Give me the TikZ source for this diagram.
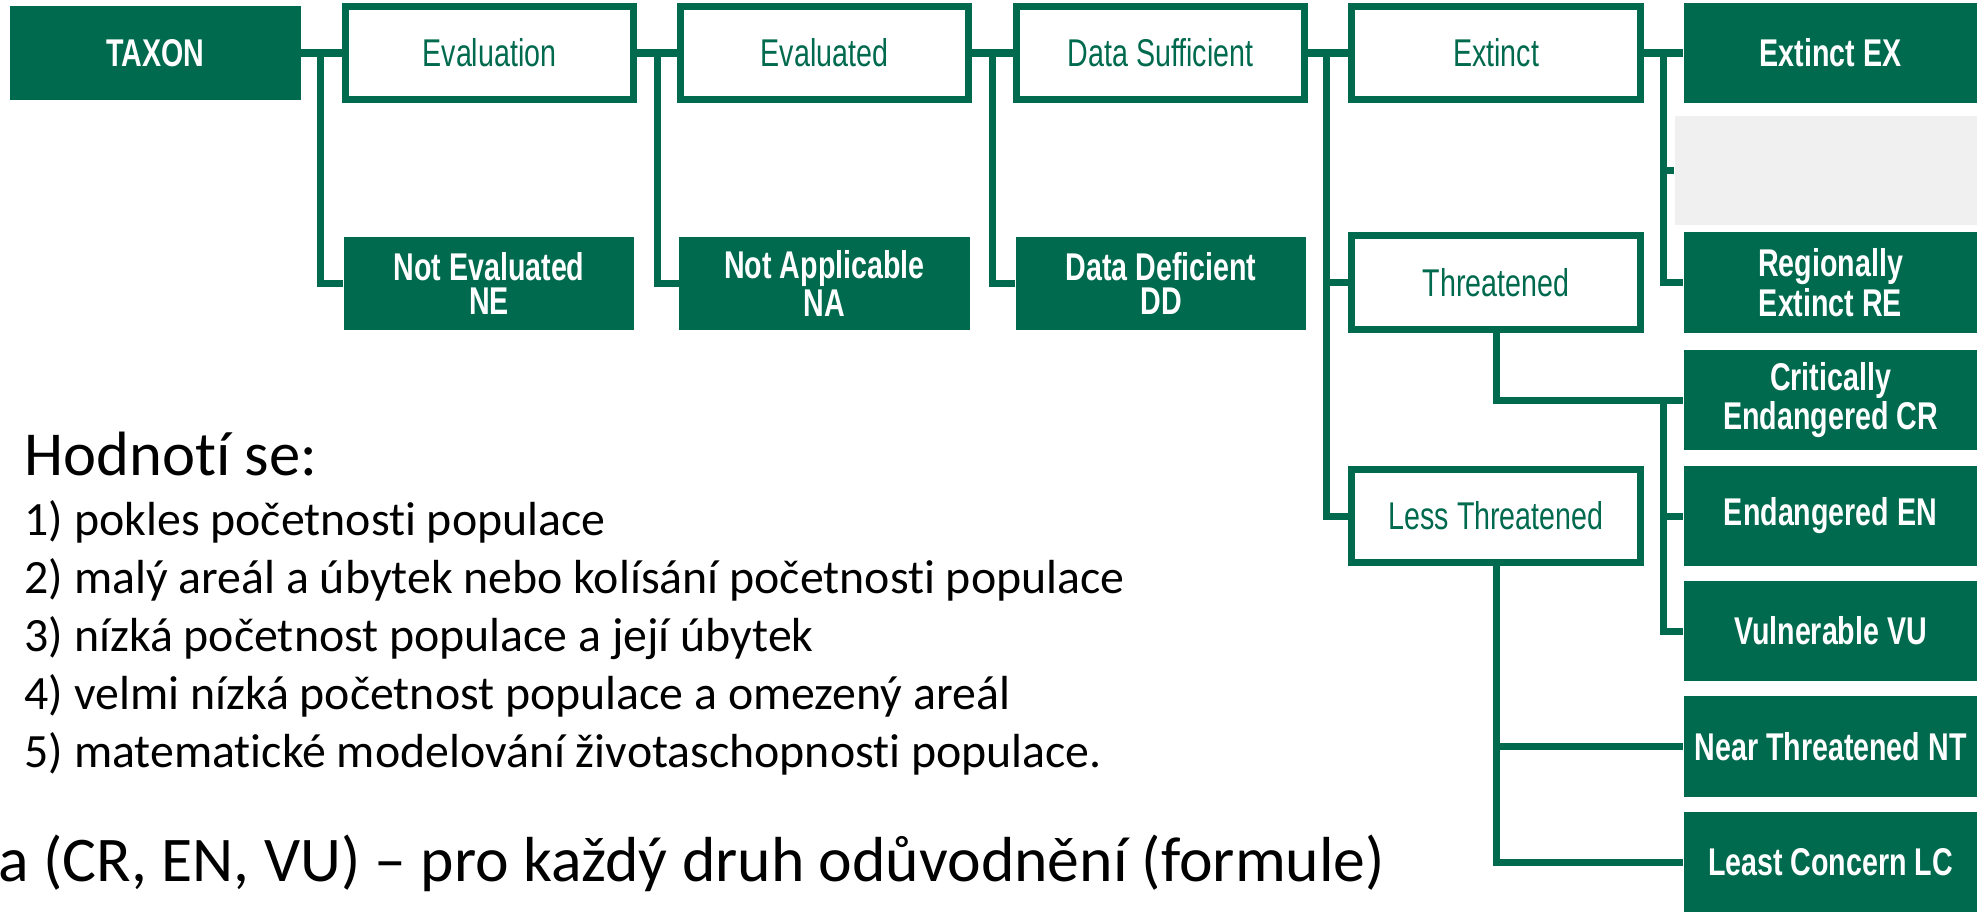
\documentclass[tikz,border=0pt]{standalone}
\usepackage{fontspec}
\setmainfont{Carlito}[Ligatures=NoCommon]
\newfontfamily\boxfont[FakeStretch=0.74]{Liberation Sans}
\usepackage{tikz}

\definecolor{iucn}{RGB}{0,106,78}
\definecolor{spare}{RGB}{240,240,240}

\tikzset{
  group/.style={draw=iucn, line width=0.07cm, fill=white, text=iucn, inner sep=0pt,
    font=\boxfont\fontsize{11}{9.6}\selectfont, align=center,
    minimum width=2.88cm, minimum height=0.93cm},
  category/.style={fill=iucn, text=white, inner sep=0pt,
    font=\boxfont\bfseries\fontsize{11}{9.6}\selectfont, align=center,
    minimum width=2.90cm, minimum height=0.93cm},
  listed/.style={category, minimum width=2.93cm, minimum height=1.0cm},
  link/.style={draw=iucn, line width=0.07cm},
  bigtext/.style={anchor=base west, inner sep=0pt, font=\fontsize{17.8}{20}\selectfont},
  smalltext/.style={anchor=base west, inner sep=0pt, font=\fontsize{13.6}{16}\selectfont},
}

\begin{document}
\begin{tikzpicture}[x=0.01cm, y=-0.01cm]
\useasboundingbox (0,0) rectangle (1977,912);

\node[category] (taxon) at (155.5,53) {TAXON};
\node[group] (eval) at (489.5,53) {Evaluation};
\node[group] (evald) at (824.5,53) {Evaluated};
\node[group] (datasuf) at (1160.5,53) {Data Sufficient};
\node[group] (extinct) at (1496,53) {Extinct};
\node[group] (threat) at (1496,282.5) {Threatened};
\node[group] (lessthr) at (1496,516) {Less Threatened};

\node[category] (notev) at (489,283.5) {Not Evaluated\\NE};
\node[category] (notapp) at (824.5,283.5) {Not Applicable\\NA};
\node[category] (datadef) at (1161,283.5) {Data Deficient\\DD};

\node[listed] (ex) at (1830.5,53) {Extinct EX};
\node[fill=spare, minimum width=3.02cm, minimum height=1.09cm] (gap) at (1826,170.5) {};
\node[listed] (re) at (1830.5,282.5) {Regionally\\Extinct RE};
\node[listed] (cr) at (1830.5,400) {Critically\\Endangered CR};
\node[listed] (en) at (1830.5,516) {Endangered EN};
\node[listed] (vu) at (1830.5,631) {Vulnerable VU};
\node[listed] (nt) at (1830.5,746.5) {Near Threatened NT};
\node[listed] (lc) at (1830.5,862) {Least Concern LC};

\coordinate (j1) at (320,53);
\coordinate (j2) at (657,53);
\coordinate (j3) at (992,53);
\coordinate (j4) at (1326,53);
\coordinate (j5) at (1663,53);
\coordinate (j6) at (1663,400);

\draw[link] (taxon.east) -- (eval.west);
\draw[link] (j1) |- (notev.west);
\draw[link] (eval.east) -- (evald.west);
\draw[link] (j2) |- (notapp.west);
\draw[link] (evald.east) -- (datasuf.west);
\draw[link] (j3) |- (datadef.west);
\draw[link] (datasuf.east) -- (extinct.west);
\draw[link] (j4) |- (threat.west);
\draw[link] (j4) |- (lessthr.west);
\draw[link] (extinct.east) -- (ex.west);
\draw[link] (j5) |- (gap.west);
\draw[link] (j5) |- (re.west);
\draw[link] (threat.south) |- (cr.west);
\draw[link] (j6) |- (en.west);
\draw[link] (j6) |- (vu.west);
\draw[link] (lessthr.south) |- (nt.west);
\draw[link] (lessthr.south) |- (lc.west);

\node[bigtext] (head) at (24,475) {Hodnotí se:};
\node[smalltext] (crit1) at (24,535) {1) pokles početnosti populace};
\node[smalltext] (crit2) at (24,593) {2) malý areál a úbytek nebo kolísání početnosti populace};
\node[smalltext] (crit3) at (24,651) {3) nízká početnost populace a její úbytek};
\node[smalltext] (crit4) at (24,709) {4) velmi nízká početnost populace a omezený areál};
\node[smalltext] (crit5) at (24,767) {5) matematické modelování životaschopnosti populace.};
\node[bigtext, font=\fontsize{18.1}{20}\selectfont] (note) at (-2,881) {a (CR, EN, VU) – pro každý druh odůvodnění (formule)};
\end{tikzpicture}
\end{document}
